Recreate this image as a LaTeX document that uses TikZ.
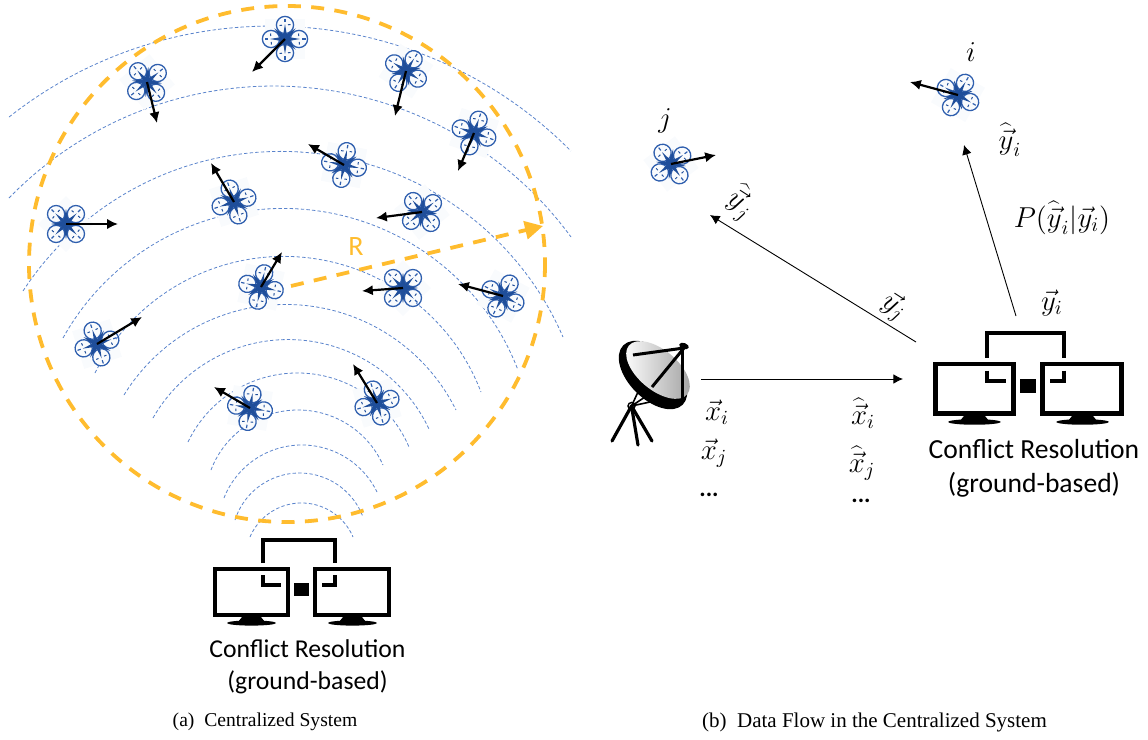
\documentclass[tikz,border=0pt]{standalone}
\usepackage{fontspec}
\setmainfont{Liberation Serif}
\newfontfamily\calfont{Carlito}
\usetikzlibrary{arrows.meta,shadings}
\definecolor{wave}{HTML}{5B84CC}
\definecolor{ring}{HTML}{FFBC2E}
\definecolor{dronec}{HTML}{2F5FAE}
\definecolor{droned}{HTML}{1F4E9A}
\definecolor{dronebg}{HTML}{F9FBFD}
\tikzset{
  wavearcline/.style={wave,line width=0.4pt,dash pattern=on 1.7pt off 1.1pt},
  ringline/.style={ring,line width=1.9pt,dash pattern=on 6.5pt off 5.2pt},
  velarrow/.style={black,line width=1.1pt,-{Latex[length=5.4pt,width=5.2pt]}},
  flowarrow/.style={black,line width=0.45pt,-{Latex[length=4.8pt,width=4.8pt]}},
  mathlabel/.style={inner sep=0pt,font=\fontsize{14.5}{16}\selectfont},
  dotslabel/.style={inner sep=0pt,font=\calfont\bfseries\fontsize{12}{14}\selectfont},
  crlabel/.style={inner sep=0pt,align=center,font=\calfont},
  drone/.pic={
    \fill[dronebg] (28,0)--(0,28)--(-28,0)--(0,-28)--cycle;
    \foreach \a in {45,135,225,315}{
      \begin{scope}[rotate=\a]
        \draw[dronec,line width=0.65pt] (14,0) circle[radius=8.6];
        \draw[dronec,line width=0.6pt] (17,0)--(20.5,0);
        \draw[droned,line width=0.5pt] (13.5,-5.5)--(13.8,-3) (14.2,3)--(14.5,5.5);
      \end{scope}
    }
    \fill[droned] (0,-15)--(2.6,-2.6)--(15,0)--(2.6,2.6)--(0,15)--(-2.6,2.6)--(-15,0)--(-2.6,-2.6)--cycle;
    \begin{scope}[rotate=45]
      \fill[droned] (0,-15)--(2.2,-2.2)--(15,0)--(2.2,2.2)--(0,15)--(-2.2,2.2)--(-15,0)--(-2.2,-2.2)--cycle;
    \end{scope}
    \fill[droned] (0,0) circle[radius=4.6];
  },
  computer/.pic={
    \begin{scope}[black,line width=2.15pt]
      \draw (-87,31) rectangle (-14,77);
      \draw (13,31) rectangle (87,77);
      \draw[line join=miter] (-39,25)--(-39,2)--(33,2)--(33,25);
      \draw[line join=miter] (-39,37)--(-39,47)--(-21,47);
      \draw[line join=miter] (33,37)--(33,47)--(20,47);
    \end{scope}
    \fill[black] (-8,45) rectangle (7,58);
    \fill[black] (-60,79)--(-41,79)--(-37,84)--(-64,84)--cycle;
    \fill[black] (-50.5,85) ellipse[x radius=24.5,y radius=2.6];
    \fill[black] (41,79)--(60,79)--(64,84)--(37,84)--cycle;
    \fill[black] (50.5,85) ellipse[x radius=24.5,y radius=2.6];
  }
}
\newcommand{\wavearc}[6]{%
  \begingroup
  \pgfmathsetmacro\wax{#1/100}\pgfmathsetmacro\way{#2/100}%
  \pgfmathsetmacro\wbx{#3/100}\pgfmathsetmacro\wby{#4/100}%
  \pgfmathsetmacro\wcx{#5/100}\pgfmathsetmacro\wcy{#6/100}%
  \pgfmathsetmacro\wd{2*(\wax*(\wby-\wcy)+\wbx*(\wcy-\way)+\wcx*(\way-\wby))}%
  \pgfmathsetmacro\wsa{\wax*\wax+\way*\way}%
  \pgfmathsetmacro\wsb{\wbx*\wbx+\wby*\wby}%
  \pgfmathsetmacro\wsc{\wcx*\wcx+\wcy*\wcy}%
  \pgfmathsetmacro\wux{(\wsa*(\wby-\wcy)+\wsb*(\wcy-\way)+\wsc*(\way-\wby))/\wd}%
  \pgfmathsetmacro\wuy{(\wsa*(\wcx-\wbx)+\wsb*(\wax-\wcx)+\wsc*(\wbx-\wax))/\wd}%
  \pgfmathsetmacro\wr{veclen(\wax-\wux,\way-\wuy)}%
  \pgfmathsetmacro\wan{atan2(\way-\wuy,\wax-\wux)}%
  \pgfmathsetmacro\wam{atan2(\wcy-\wuy,\wcx-\wux)}%
  \draw[wavearcline] plot[domain=\wan:\wam,samples=90,variable=\t]
     ({100*(\wux+\wr*cos(\t))},{100*(\wuy+\wr*sin(\t))});
  \endgroup
}
% name, x, y, visual ccw rotation, tip x, tip y
\newcommand{\dronev}[6]{%
  \coordinate (#1) at (#2,#3);
  \coordinate (#1t) at (#5,#6);
  \pic[rotate=-#4] at (#1) {drone};
  \draw[velarrow] (#1)--(#1t);
}
\begin{document}
\begin{tikzpicture}[x=0.5pt,y=-0.5pt]
\useasboundingbox (0,0) rectangle (1148,740);
% waves
\wavearc{250}{537}{300}{503}{353}{537}
\wavearc{235}{520}{300}{473}{363}{517}
\wavearc{224}{498}{300}{445}{377}{492}
\wavearc{211}{470}{300}{410}{383}{465}
\wavearc{188}{442}{300}{373}{409}{447}
\wavearc{153}{418}{300}{340}{429}{429}
\wavearc{124}{395}{300}{305}{456}{410}
\wavearc{95}{373}{300}{257}{481}{392}
\wavearc{63}{338}{300}{209}{518}{370}
\wavearc{23}{291}{300}{152}{563}{337}
\wavearc{9}{198}{300}{87}{571}{237}
\wavearc{9}{117}{300}{27}{571}{151}
% ring
\coordinate (ringc) at (287,264);
\draw[ringline] (ringc) circle[radius=258];
% drones
\dronev{da}{147}{82}{5}{157}{123}
\dronev{db}{285}{39}{45}{252}{72}
\dronev{dc}{406}{71}{-12}{395}{116}
\dronev{dd}{474}{133}{-26}{458}{171}
\dronev{de}{344}{165}{-34}{308}{144}
\dronev{df}{234}{202}{27}{211}{163}
\dronev{dg}{66}{224}{0}{118}{224}
\dronev{dh}{422}{212}{6}{376}{218}
\dronev{di}{261}{287}{-32}{282}{252}
\dronev{dj}{403}{288}{0}{362}{291}
\dronev{dk}{503}{296}{-17}{458}{284}
\dronev{dl}{97}{344}{27}{142}{317}
\dronev{dm}{250}{408}{-35}{214}{387}
\dronev{dn}{377}{403}{28}{353}{364}
\dronev{dj2}{671}{164}{8}{716}{155}
\dronev{di2}{958}{95}{-15}{910}{82}
% radius arrow
\coordinate (ra) at (291,286);
\coordinate (rb) at (543,226);
\draw[ringline,-{Triangle[length=9pt,width=9pt]}] (ra)--(rb);
\node[crlabel,text=ring,font=\calfont\fontsize{14}{16}\selectfont] (rlabel) at (356,247) {R};
% left computer
\pic at (302,538) {computer};
\node[crlabel,font=\calfont\fontsize{12.85}{16}\selectfont] (crleft) at (307.5,667) {Conflict Resolution\\(ground-based)};
% right computer
\pic[scale=1.07] at (1028.5,331) {computer};
\node[crlabel,font=\calfont\fontsize{13.8}{17}\selectfont] (crright) at (1034,468) {Conflict Resolution\\(ground-based)};
% dish
\begin{scope}
  \draw[black,line width=1.6pt,line cap=round] (631.5,406)--(612,441);
  \draw[black,line width=1.6pt,line cap=round] (631.5,406)--(638,445);
  \draw[black,line width=1.6pt,line cap=round] (631.5,406)--(652,441);
  \draw[black,line width=0.8pt] (631.5,406)--(638,392) (631.5,406)--(645,397) (631.5,406)--(650,402);
  \draw[black,line width=0.7pt] (631.5,406) circle[radius=3.5];
  \fill[black,rotate around={-45:(653,375)}] (653,375) ellipse[x radius=42,y radius=24];
  \shade[left color=white,right color=gray!75,rotate around={-40:(658,370)}] (658,370) ellipse[x radius=38,y radius=20];
  \draw[black,line width=1.5pt] (633,355)--(684,348);
  \draw[black,line width=1.5pt] (652,387)--(684,348);
  \draw[black,line width=1.5pt] (682,348)--(682,398);
  \fill[black,rotate around={-20:(684,346)}] (684,346) ellipse[x radius=5,y radius=3];
\end{scope}
% flows
\coordinate (dishout) at (701,379);
\coordinate (crin) at (903,379);
\coordinate (crouti) at (1016,316);
\coordinate (drisink) at (964,145);
\coordinate (croutj) at (916,342);
\coordinate (drjsink) at (710,215);
\draw[flowarrow] (dishout)--(crin);
\draw[flowarrow] (crouti)--(drisink);
\draw[flowarrow] (croutj)--(drjsink);
% labels
\node[mathlabel] (li) at (971,52) {$i$};
\node[mathlabel] (lj) at (665,121) {$j$};
\node[mathlabel] (yhi) at (1010,140) {$\widehat{\vec{y}}_i$};
\node[mathlabel] (pl) at (1062,218) {$P\bigl(\widehat{\vec{y}}_i|\vec{y}_i\bigr)$};
\node[mathlabel] (yi) at (1052,303) {$\vec{y}_i$};
\node[mathlabel,rotate=-33] (yhj) at (741,203) {$\widehat{\vec{y}}_j$};
\node[mathlabel,rotate=-33] (yj) at (894,307) {$\vec{y}_j$};
\node[mathlabel] (xi) at (717,412) {$\vec{x}_i$};
\node[mathlabel] (xj) at (714,453) {$\vec{x}_j$};
\node[dotslabel] (xd) at (709,495) {...};
\node[mathlabel] (xhi) at (863,413) {$\widehat{\vec{x}}_i$};
\node[mathlabel] (xhj) at (862,463) {$\widehat{\vec{x}}_j$};
\node[dotslabel] (xhd) at (861,501) {...};
% captions
\node[inner sep=0pt,font=\fontsize{9.8}{11}\selectfont] (capa) at (265,722) {(a)\ \ Centralized System};
\node[inner sep=0pt,font=\fontsize{10.5}{12}\selectfont] (capb) at (874.5,722) {(b)\ \ Data Flow in the Centralized System};
\end{tikzpicture}
\end{document}
